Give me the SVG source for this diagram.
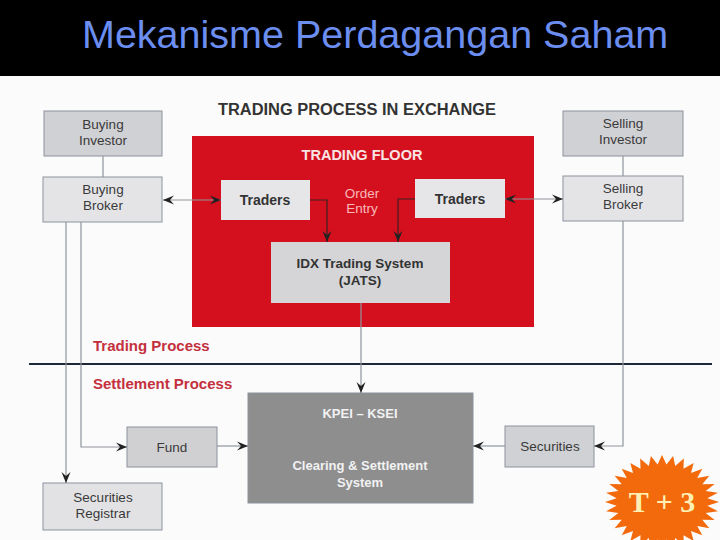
<svg xmlns="http://www.w3.org/2000/svg" width="720" height="540" viewBox="0 0 720 540">
<defs>
<style>
.box{stroke:#8c929c;stroke-width:1}
.lt{font-family:"Liberation Sans",Arial,sans-serif;font-size:13.5px;fill:#3a3a3a;text-anchor:middle}
.bd{font-family:"Liberation Sans",Arial,sans-serif;font-weight:bold;text-anchor:middle}
.conn{fill:none;stroke:#8f949c;stroke-width:1.2}
.dk{fill:none;stroke:#3a2020;stroke-width:1.2}
.sec{font-family:"Liberation Sans",Arial,sans-serif;font-weight:bold;font-size:15px;fill:#c4303e}
</style>
<marker id="ah" markerWidth="12" markerHeight="10" refX="11" refY="5" orient="auto-start-reverse" markerUnits="userSpaceOnUse">
<path d="M0,0.5 L11,5 L0,9.5 L4,5 Z" fill="#222"/>
</marker>
</defs>
<rect x="0" y="0" width="720" height="540" fill="#fbfbfb"/>
<rect x="0" y="0" width="720" height="76" fill="#000"/>
<text x="82" y="48" font-family="Liberation Sans,Arial,sans-serif" font-size="39.5" fill="#6b8ef0">Mekanisme Perdagangan Saham</text>

<text x="357" y="115" class="bd" font-size="16" fill="#333" textLength="278" lengthAdjust="spacingAndGlyphs">TRADING PROCESS IN EXCHANGE</text>

<g id="trading-floor">
<rect x="192" y="136" width="342" height="191" fill="#d5101e"/>
<text x="362" y="160" class="bd" font-size="14.5" fill="#f8e4e4">TRADING FLOOR</text>
<text x="362" y="198" class="lt" fill="#f7b9b9" style="fill:#f7b9b9">Order</text>
<text x="362" y="213" class="lt" style="fill:#f7b9b9">Entry</text>
</g>

<g id="buying-investor">
<rect class="box" x="44" y="111" width="118" height="45" fill="#d0d1d4"/>
<text class="lt" x="103" y="129">Buying</text>
<text class="lt" x="103" y="145">Investor</text>
</g>
<g id="buying-broker">
<rect class="box" x="43" y="177" width="119" height="45" fill="#e4e4e7"/>
<text class="lt" x="103" y="194">Buying</text>
<text class="lt" x="103" y="210">Broker</text>
</g>
<g id="selling-investor">
<rect class="box" x="563" y="111" width="120" height="45" fill="#d0d1d4"/>
<text class="lt" x="623" y="128">Selling</text>
<text class="lt" x="623" y="144">Investor</text>
</g>
<g id="selling-broker">
<rect class="box" x="563" y="176" width="120" height="45" fill="#e4e4e7"/>
<text class="lt" x="623" y="193">Selling</text>
<text class="lt" x="623" y="209">Broker</text>
</g>
<g id="traders-left">
<rect x="221" y="180" width="89" height="40" fill="#e6e6e8"/>
<text class="bd" x="265" y="205" font-size="14" fill="#333">Traders</text>
</g>
<g id="traders-right">
<rect x="415" y="179" width="90" height="39" fill="#e6e6e8"/>
<text class="bd" x="460" y="204" font-size="14" fill="#333">Traders</text>
</g>
<g id="jats">
<rect x="271" y="242" width="179" height="61" fill="#d5d5d7"/>
<text class="bd" x="360" y="268" font-size="13.5" fill="#333">IDX Trading System</text>
<text class="bd" x="360" y="285" font-size="13.5" fill="#333">(JATS)</text>
</g>
<g id="kpei">
<rect class="box" x="248" y="393" width="225" height="110" fill="#8e8e8f"/>
<text class="bd" x="360" y="418" font-size="13" fill="#f2f2f2">KPEI – KSEI</text>
<text class="bd" x="360" y="470" font-size="13" fill="#f2f2f2">Clearing &amp; Settlement</text>
<text class="bd" x="360" y="487" font-size="13" fill="#f2f2f2">System</text>
</g>
<g id="fund">
<rect class="box" x="127" y="427" width="90" height="40" fill="#d0d0d2"/>
<text class="lt" x="172" y="452">Fund</text>
</g>
<g id="securities">
<rect class="box" x="505" y="426" width="89" height="41" fill="#d0d1d4"/>
<text class="lt" x="550" y="451">Securities</text>
</g>
<g id="securities-registrar">
<rect class="box" x="43" y="483" width="119" height="47" fill="#e2e2e4"/>
<text class="lt" x="103" y="502">Securities</text>
<text class="lt" x="103" y="518">Registrar</text>
</g>

<g id="section-labels">
<line x1="29" y1="364" x2="712" y2="364" stroke="#1e2838" stroke-width="2"/>
<text class="sec" x="93" y="351">Trading Process</text>
<text class="sec" x="93" y="389">Settlement Process</text>
</g>

<g id="connectors">
<line class="conn" x1="103" y1="156" x2="103" y2="177"/>
<line class="conn" x1="623" y1="156" x2="623" y2="176"/>
<line class="conn" x1="163" y1="200" x2="221" y2="200" marker-start="url(#ah)" marker-end="url(#ah)"/>
<line class="conn" x1="505" y1="199" x2="563" y2="199" marker-start="url(#ah)" marker-end="url(#ah)"/>
<path class="dk" d="M310,200 H327 V242" marker-end="url(#ah)"/>
<path class="dk" d="M415,199 H398 V242" marker-end="url(#ah)"/>
<path class="conn" d="M361,303 V393" marker-end="url(#ah)"/>
<path class="conn" d="M81,222 V447 H127" marker-end="url(#ah)"/>
<path class="conn" d="M66,222 V483" marker-end="url(#ah)"/>
<path class="conn" d="M217,446 H248" marker-end="url(#ah)"/>
<path class="conn" d="M623,221 V446 H594" marker-end="url(#ah)"/>
<path class="conn" d="M505,446 H473" marker-end="url(#ah)"/>
</g>

<g id="t-plus-3">
<polygon transform="translate(662,502) scale(57,47)" fill="#f26a0c" points="1,0 .796,.078 .981,.195 .766,.232 .924,.383 .706,.377 .831,.556 .618,.508 .707,.707 .508,.618 .556,.831 .377,.706 .383,.924 .232,.766 .195,.981 .078,.796 0,1 -.078,.796 -.195,.981 -.232,.766 -.383,.924 -.377,.706 -.556,.831 -.508,.618 -.707,.707 -.618,.508 -.831,.556 -.706,.377 -.924,.383 -.766,.232 -.981,.195 -.796,.078 -1,0 -.796,-.078 -.981,-.195 -.766,-.232 -.924,-.383 -.706,-.377 -.831,-.556 -.618,-.508 -.707,-.707 -.508,-.618 -.556,-.831 -.377,-.706 -.383,-.924 -.232,-.766 -.195,-.981 -.078,-.796 0,-1 .078,-.796 .195,-.981 .232,-.766 .383,-.924 .377,-.706 .556,-.831 .508,-.618 .707,-.707 .618,-.508 .831,-.556 .706,-.377 .924,-.383 .766,-.232 .981,-.195 .796,-.078"/>
<text x="662" y="512" font-family="Liberation Serif,Times New Roman,serif" font-weight="bold" font-size="30" fill="#fdf0b4" text-anchor="middle">T + 3</text>
</g>
</svg>
